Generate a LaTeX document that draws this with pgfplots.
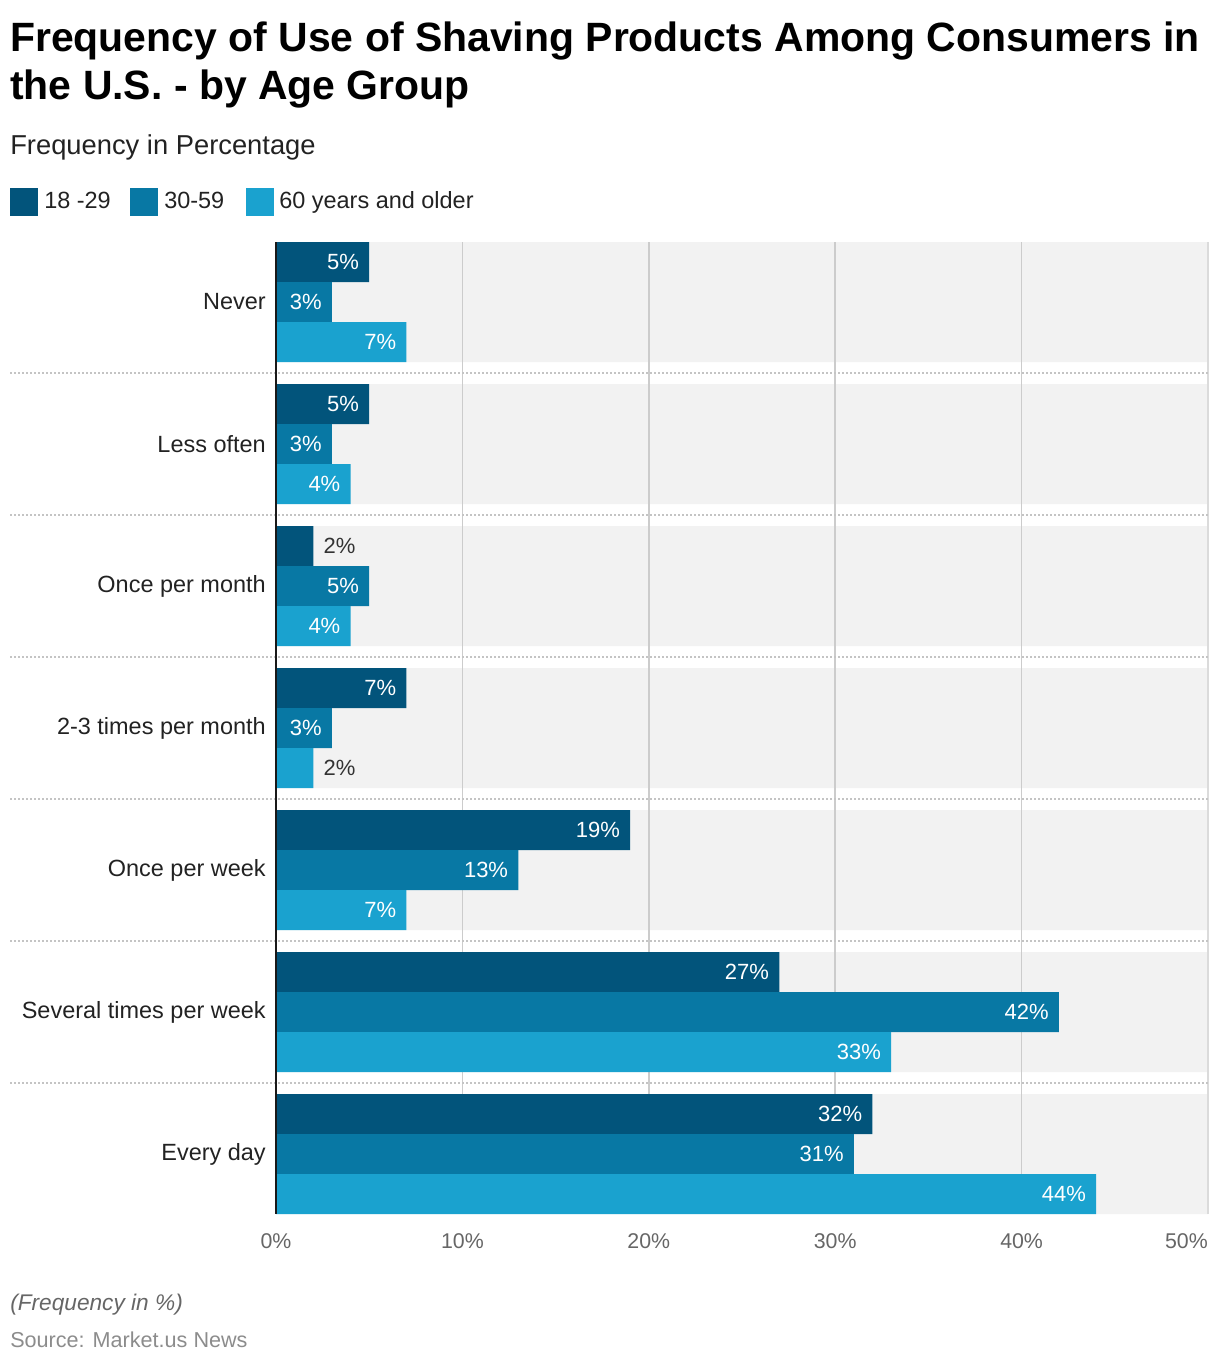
\documentclass[border=0pt]{standalone}
\usepackage{pgfplots}
\pgfplotsset{compat=1.18}
\usepackage{fontspec}
\setmainfont{Liberation Sans}
\definecolor{cA}{HTML}{02547B}
\definecolor{cB}{HTML}{0878A4}
\definecolor{cC}{HTML}{1AA2CF}
\definecolor{band}{HTML}{F2F2F2}
\definecolor{gridc}{HTML}{CCCCCC}
\definecolor{sepc}{HTML}{C4C4C4}
\definecolor{txt}{HTML}{222222}
\definecolor{labout}{HTML}{333333}
\definecolor{tickc}{HTML}{666666}

\pgfplotsset{
  barin/.style={
    nodes near coords, point meta=explicit symbolic,
    every node near coord/.append style={anchor=east, xshift=-7.5pt, text=white,
      shift={(axis direction cs:0,#1)},
      font=\fontsize{16.5pt}{18pt}\selectfont, inner sep=0pt},
  },
  barout/.style={
    nodes near coords, point meta=explicit symbolic,
    every node near coord/.append style={anchor=west, xshift=7.5pt, text=labout,
      shift={(axis direction cs:0,#1)},
      font=\fontsize{16.5pt}{18pt}\selectfont, inner sep=0pt},
  },
}

\begin{document}
\begin{tikzpicture}[x=0.75pt,y=-0.75pt]
\useasboundingbox (0,0) rectangle (1220,1366);

% titles
\node[anchor=base west, inner sep=0pt, font=\fontsize{30.7pt}{36pt}\selectfont\bfseries] at (10,52)
  {Frequency of Use of Shaving Products Among Consumers in};
\node[anchor=base west, inner sep=0pt, font=\fontsize{30.7pt}{36pt}\selectfont\bfseries] at (10,100)
  {the U.S. - by Age Group};
\node[anchor=base west, inner sep=0pt, text=txt, font=\fontsize{20.5pt}{24pt}\selectfont] at (10,155)
  {Frequency in Percentage};

% legend
\fill[cA] (10,188) rectangle (38,216);
\node[anchor=base west, inner sep=0pt, text=txt, font=\fontsize{17.6pt}{20pt}\selectfont] at (44,208) {18 -29};
\fill[cB] (130,188) rectangle (158,216);
\node[anchor=base west, inner sep=0pt, text=txt, font=\fontsize{17.6pt}{20pt}\selectfont] at (164,208) {30-59};
\fill[cC] (246,188) rectangle (274,216);
\node[anchor=base west, inner sep=0pt, text=txt, font=\fontsize{17.6pt}{20pt}\selectfont] at (279,208) {60 years and older};

\begin{axis}[
  at={(207pt,-910.5pt)}, anchor=south west,
  scale only axis, width=699pt, height=729pt,
  xmin=0, xmax=50, ymin=-0.4225, ymax=6.4225,
  y dir=reverse, clip=false,
  axis line style={draw=none},
  major tick length=0pt,
  xtick={0,10,20,30,40},
  xticklabels={0\%,10\%,20\%,30\%,40\%},
  extra x ticks={50},
  extra x tick labels={50\%},
  extra x tick style={xticklabel style={anchor=north east}},
  xticklabel style={anchor=north, inner sep=0pt, yshift=-14.5pt, text=tickc,
     font=\fontsize{16pt}{18pt}\selectfont},
  ytick={0,1,2,3,4,5,6},
  yticklabels={Never,Less often,Once per month,2-3 times per month,Once per week,Several times per week,Every day},
  yticklabel style={anchor=east, inner sep=0pt, xshift=-7.5pt, text=txt,
     font=\fontsize{17.6pt}{20pt}\selectfont},
]
% background bands
\addplot[xbar, bar width=0.8451, bar shift=0, fill=band, draw=none]
  coordinates {(50,0) (50,1) (50,2) (50,3) (50,4) (50,5) (50,6)};
% vertical grid lines
\addplot[gridc, line width=1.1pt] coordinates {(10,-0.4225) (10,6.4225)};
\addplot[gridc, line width=1.1pt] coordinates {(20,-0.4225) (20,6.4225)};
\addplot[gridc, line width=1.1pt] coordinates {(30,-0.4225) (30,6.4225)};
\addplot[gridc, line width=1.1pt] coordinates {(40,-0.4225) (40,6.4225)};
\addplot[gridc!70, line width=1.1pt] coordinates {(50,-0.4225) (50,6.4225)};
% dotted separators
\pgfplotsinvokeforeach{0.5,1.5,2.5,3.5,4.5,5.5}{
  \addplot[sepc, line width=1.1pt, dash pattern=on 1.5pt off 1.5pt] coordinates {(-14.27,#1) (50,#1)};
}
% bars: 18-29
\addplot[xbar, bar width=0.2817, bar shift=-0.2817, fill=cA, draw=none, barin=-0.2817] coordinates {
  (5,0) [5\%] (5,1) [5\%] (2,2) [\relax] (7,3) [7\%] (19,4) [19\%] (27,5) [27\%] (32,6) [32\%]};
% 30-59
\addplot[xbar, bar width=0.2817, bar shift=0, fill=cB, draw=none, barin=0] coordinates {
  (3,0) [3\%] (3,1) [3\%] (5,2) [5\%] (3,3) [3\%] (13,4) [13\%] (42,5) [42\%] (31,6) [31\%]};
% 60 and older
\addplot[xbar, bar width=0.2817, bar shift=0.2817, fill=cC, draw=none, barin=0.2817] coordinates {
  (7,0) [7\%] (4,1) [4\%] (4,2) [4\%] (2,3) [\relax] (7,4) [7\%] (33,5) [33\%] (44,6) [44\%]};
% labels outside the short bars
\addplot[xbar, bar width=0.2817, bar shift=-0.2817, draw=none, fill=none, barout=-0.2817] coordinates {(2,2) [2\%]};
\addplot[xbar, bar width=0.2817, bar shift=0.2817, draw=none, fill=none, barout=0.2817] coordinates {(2,3) [2\%]};
% axis line
\addplot[black!90, line width=1.5pt] coordinates {(0,-0.4225) (0,6.4225)};
\end{axis}

% footer
\node[anchor=base west, inner sep=0pt, text=black!60, font=\fontsize{17pt}{20pt}\selectfont\itshape] at (10,1310)
  {(Frequency in \%)};
\node[anchor=base west, inner sep=0pt, text=black!45, font=\fontsize{16.2pt}{20pt}\selectfont] at (10,1347)
  {Source: Market.us News};
\end{tikzpicture}
\end{document}
